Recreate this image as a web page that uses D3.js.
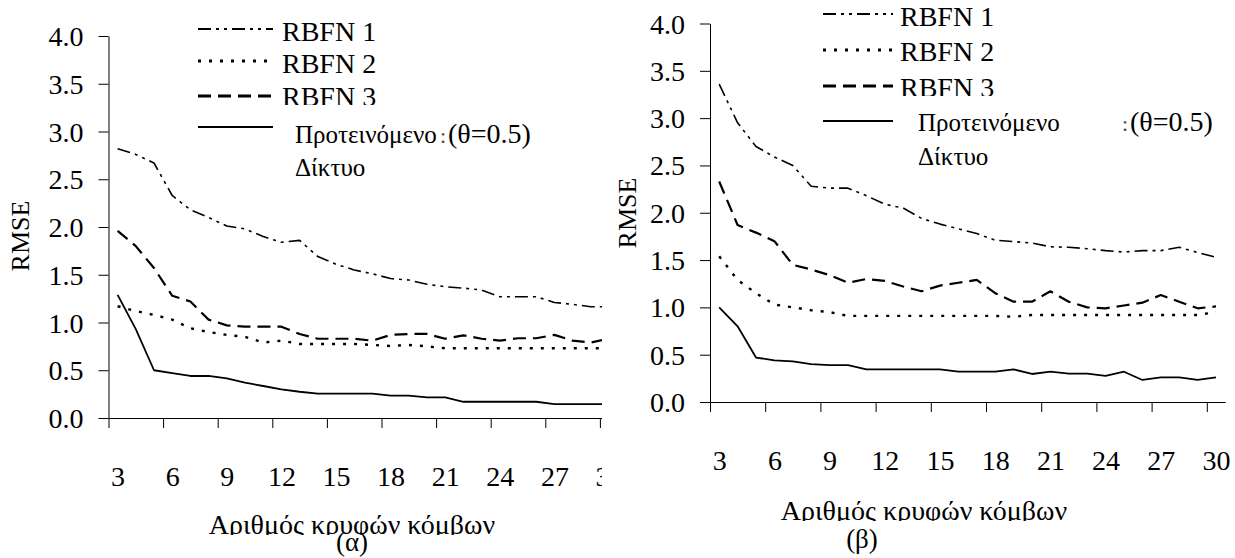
<!DOCTYPE html>
<html>
<head>
<meta charset="utf-8">
<script src="https://cdn.jsdelivr.net/npm/d3@7"></script>
<style>
  html, body { margin: 0; padding: 0; background: #fff; }
  svg { display: block; }
</style>
</head>
<body>
<svg id="chart" width="1235" height="558"></svg>
<script>
// Number of hidden nodes (categories on the x axis)
const categories = [3, 4, 5, 6, 7, 8, 9, 10, 11, 12, 13, 14, 15, 16, 17, 18, 19, 20,
                    21, 22, 23, 24, 25, 26, 27, 28, 29, 30];
const xTickLabels = [3, 6, 9, 12, 15, 18, 21, 24, 27, 30];
const yTickValues = [0, 0.5, 1, 1.5, 2, 2.5, 3, 3.5, 4];
const seriesNames = ["RBFN 1", "RBFN 2", "RBFN 3", "Προτεινόμενο"];
const seriesNameLine2 = "Δίκτυο";
const thetaNote = "(θ=0.5)";
const yTitle = "RMSE";
const xTitle = "Αριθμός κρυφών κόμβων";
const panelCaptions = ["(α)", "(β)"];

// RMSE, panel (α)
const rbfn1A    = [2.82, 2.76, 2.67, 2.33, 2.18, 2.10, 2.01, 1.98, 1.90, 1.84, 1.86, 1.69, 1.61, 1.55,
                   1.51, 1.46, 1.445, 1.40, 1.375, 1.36, 1.34, 1.27, 1.27, 1.27, 1.21, 1.19, 1.165, 1.165];
const rbfn2A    = [1.17, 1.12, 1.08, 1.03, 0.94, 0.90, 0.87, 0.85, 0.79, 0.81, 0.775, 0.775, 0.775, 0.775,
                   0.765, 0.754, 0.765, 0.75, 0.73, 0.73, 0.73, 0.73, 0.73, 0.73, 0.73, 0.73, 0.73, 0.73];
const rbfn3A    = [1.96, 1.80, 1.57, 1.28, 1.22, 1.03, 0.97, 0.956, 0.956, 0.956, 0.88, 0.83, 0.83, 0.83,
                   0.81, 0.87, 0.88, 0.88, 0.83, 0.866, 0.83, 0.81, 0.835, 0.835, 0.87, 0.81, 0.79, 0.83];
const proposedA = [1.29, 0.93, 0.50, 0.47, 0.44, 0.44, 0.415, 0.37, 0.335, 0.30, 0.275, 0.255, 0.255, 0.255,
                   0.255, 0.235, 0.235, 0.215, 0.215, 0.17, 0.17, 0.17, 0.17, 0.17, 0.145, 0.145, 0.145, 0.145];

// RMSE, panel (β)
const rbfn1B    = [3.36, 2.95, 2.70, 2.59, 2.50, 2.28, 2.26, 2.26, 2.18, 2.09, 2.05, 1.94, 1.88, 1.83,
                   1.78, 1.71, 1.695, 1.68, 1.64, 1.635, 1.62, 1.60, 1.585, 1.60, 1.60, 1.635, 1.58, 1.53];
const rbfn2B    = [1.54, 1.29, 1.15, 1.03, 1.00, 0.97, 0.95, 0.91, 0.91, 0.91, 0.91, 0.91, 0.91, 0.91,
                   0.91, 0.91, 0.90, 0.92, 0.92, 0.92, 0.92, 0.92, 0.92, 0.92, 0.92, 0.92, 0.92, 0.95];
const rbfn3B    = [2.33, 1.87, 1.79, 1.70, 1.45, 1.40, 1.34, 1.26, 1.30, 1.28, 1.22, 1.17, 1.23, 1.26,
                   1.29, 1.15, 1.06, 1.06, 1.17, 1.06, 1.00, 0.99, 1.02, 1.05, 1.13, 1.06, 0.99, 1.01];
const proposedB = [1.00, 0.80, 0.47, 0.44, 0.43, 0.40, 0.39, 0.39, 0.345, 0.345, 0.345, 0.345, 0.345, 0.32,
                   0.32, 0.32, 0.345, 0.296, 0.32, 0.30, 0.30, 0.275, 0.32, 0.233, 0.26, 0.26, 0.233, 0.26];

// Line styles per series (order follows seriesNames)
const seriesStyles = [
  { width: 1.6, dash: "13,5,3,5,3,5" },   // long dash dot dot
  { width: 2.4, dash: "3,8" },            // round dots
  { width: 2.2, dash: "13,7" },           // long dash
  { width: 1.8, dash: null }              // solid
];

const FONT = '"Liberation Serif", "DejaVu Serif", "Times New Roman", serif';

const svg = d3.select("#chart");
const defs = svg.append("defs");

function serif(sel, size) {
  return sel.style("font-family", FONT).style("font-size", size + "px").attr("fill", "#000");
}

const panels = [
  {
    id: "a", series: [rbfn1A, rbfn2A, rbfn3A, proposedA],
    x0: 108.5, band: 18.2, y0: 418, y4: 36, clipRight: 602,
    yTitle: { x: 20, y: 236 },
    xTitle: { x: 352, y: 534 }, caption: { x: 352, y: 551 },
    legend: { lx0: 198, lx1: 273, tx: 282, gx: 295, lineY: [29, 61, 96, 127],
              textY: [41, 73, 106, 143], line2Y: 176, noteX: 448, colonX: 440, clip3: 105 }
  },
  {
    id: "b", series: [rbfn1B, rbfn2B, rbfn3B, proposedB],
    x0: 710, band: 18.4, y0: 402, y4: 23.5, clipRight: null,
    yTitle: { x: 627, y: 213 },
    xTitle: { x: 924, y: 520 }, caption: { x: 862, y: 548 },
    legend: { lx0: 823, lx1: 893, tx: 900, gx: 918, lineY: [14, 50, 86, 121],
              textY: [26, 61, 97, 131], line2Y: 165, noteX: 1130, colonX: 1122, clip3: 96 }
  }
];

panels.forEach(p => {
  const n = categories.length;
  const x = d3.scaleLinear()
    .domain([categories[0] - 0.5, categories[n - 1] + 0.5])
    .range([p.x0, p.x0 + n * p.band]);
  const y = d3.scaleLinear().domain([0, 4]).range([p.y0, p.y4]);

  let g = svg.append("g");
  if (p.clipRight !== null) {
    defs.append("clipPath").attr("id", "clip-" + p.id)
      .append("rect").attr("x", 0).attr("y", 0).attr("width", p.clipRight).attr("height", 558);
    g.attr("clip-path", "url(#clip-" + p.id + ")");
  }

  // Y axis
  const yAxis = d3.axisLeft(y).tickValues(yTickValues).tickFormat(d3.format(".1f"))
    .tickSize(10).tickSizeOuter(0).tickPadding(15);
  const ya = g.append("g").attr("transform", `translate(${p.x0},0)`).call(yAxis);
  serif(ya.selectAll("text"), 28).attr("dy", "0.34em");

  // X axis: tick marks sit between groups of three categories
  const tickPos = xTickLabels.map(v => v - 0.5);
  const xAxisTicks = d3.axisBottom(x).tickValues(tickPos).tickFormat("")
    .tickSize(10).tickSizeOuter(0);
  g.append("g").attr("transform", `translate(0,${p.y0})`).call(xAxisTicks);

  const xAxisLabels = d3.axisBottom(x).tickValues(xTickLabels).tickFormat(d3.format("d"))
    .tickSize(0).tickPadding(48);
  const xl = g.append("g").attr("transform", `translate(0,${p.y0})`).call(xAxisLabels);
  xl.select(".domain").remove();
  serif(xl.selectAll("text"), 28);

  svg.selectAll(".domain, .tick line").attr("stroke", "#000").attr("stroke-width", 1);

  // Series lines
  const line = d3.line().x((d, i) => x(categories[i])).y(d => y(d));
  p.series.forEach((vals, si) => {
    const st = seriesStyles[si];
    g.append("path").datum(vals)
      .attr("d", line)
      .attr("fill", "none").attr("stroke", "#000")
      .attr("stroke-width", st.width)
      .attr("stroke-dasharray", st.dash)
      .attr("stroke-linejoin", "round");
  });

  // Axis titles
  serif(svg.append("text"), 26)
    .attr("transform", `translate(${p.yTitle.x},${p.yTitle.y}) rotate(-90)`)
    .attr("text-anchor", "middle").attr("dy", "0.35em")
    .text(yTitle);

  defs.append("clipPath").attr("id", "xt-" + p.id)
    .append("rect").attr("x", 0).attr("y", 0).attr("width", 1235).attr("height", p.xTitle.y + 1);
  serif(svg.append("text"), 28).attr("clip-path", "url(#xt-" + p.id + ")")
    .attr("x", p.xTitle.x).attr("y", p.xTitle.y).attr("text-anchor", "middle")
    .text(xTitle);

  serif(svg.append("text"), 27).attr("x", p.caption.x).attr("y", p.caption.y).attr("text-anchor", "middle")
    .text(panelCaptions[p.id === "a" ? 0 : 1]);

  // Legend
  const L = p.legend;
  defs.append("clipPath").attr("id", "lg-" + p.id)
    .append("rect").attr("x", 0).attr("y", 0).attr("width", 1235).attr("height", L.clip3);
  seriesNames.forEach((name, si) => {
    const st = seriesStyles[si];
    svg.append("line")
      .attr("x1", L.lx0).attr("x2", L.lx1).attr("y1", L.lineY[si]).attr("y2", L.lineY[si])
      .attr("stroke", "#000").attr("stroke-width", si === 3 ? 1.8 : st.width + 0.6)
      .attr("stroke-dasharray", st.dash);
    const t = serif(svg.append("text"), si === 3 ? 25 : 28)
      .attr("x", si === 3 ? L.gx : L.tx).attr("y", L.textY[si])
      .text(name);
    if (si === 2) t.attr("clip-path", "url(#lg-" + p.id + ")");
  });
  serif(svg.append("text"), 25).attr("x", L.gx).attr("y", L.line2Y).text(seriesNameLine2);
  serif(svg.append("text"), 22).attr("x", L.colonX).attr("y", L.textY[3])
    .attr("fill", "#444").text(":");
  serif(svg.append("text"), 28).attr("x", L.noteX).attr("y", L.textY[3]).text(thetaNote);
});
</script>
</body>
</html>
